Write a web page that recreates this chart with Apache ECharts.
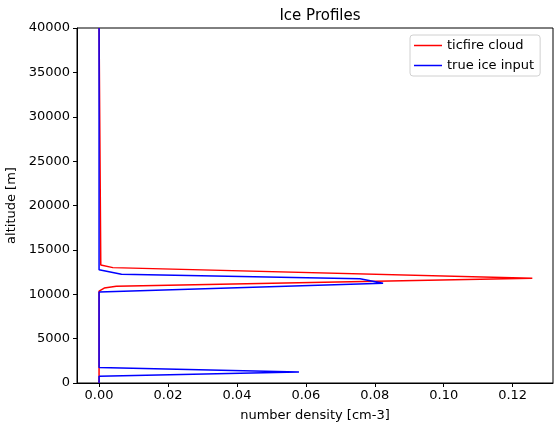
<!DOCTYPE html>
<html>
<head>
<meta charset="utf-8">
<script src="https://cdn.jsdelivr.net/npm/echarts@6/dist/echarts.min.js"></script>
<style>
  html, body { margin: 0; padding: 0; background: #fff; }
  #chart { width: 556px; height: 433px; }
</style>
</head>
<body>
<div id="chart"></div>
<script>
// 数据: [number density, altitude]
var ticfireDensity  = [0, 0,     0.0015, 0.005, 0.1257, 0.1252, 0.004, 0.0005, 0,     0];
var ticfireAltitude = [0, 10350, 10700,  10900, 11800,  12000,  13000, 13300,  13400, 40000];

var trueDensity  = [0, 0,   0.058, 0,    0,     0.0824, 0.0757, 0.0065, 0,     0];
var trueAltitude = [0, 750, 1250,  1750, 10250, 11250,  11750,  12250,  12750, 40000];

var xTicks = [0, 0.02, 0.04, 0.06, 0.08, 0.10, 0.12];
var seriesNames = ['ticfire cloud', 'true ice input'];

function pairs(xs, ys) {
    var out = [];
    for (var i = 0; i < xs.length; i++) out.push([xs[i], ys[i]]);
    return out;
}

var font = 'DejaVu Sans';
// 图例里只画一条线
var lineIcon = 'path://M0,0L0,0M0,5.25L28,5.25L28,6.75L0,6.75ZM28,12L28,12';
var myChart = echarts.init(document.getElementById('chart'));

var option = {
    animation: false,
    title: {
        text: 'Ice Profiles',
        left: 315,
        textAlign: 'center',
        top: 4,
        textStyle: { fontFamily: font, fontSize: 15, fontWeight: 'normal', color: '#000' }
    },
    legend: {
        data: [
            { name: seriesNames[0], icon: lineIcon },
            { name: seriesNames[1], icon: lineIcon }
        ],
        orient: 'vertical',
        left: 410,
        top: 35,
        padding: [4, 6, 4, 4],
        itemWidth: 28,
        itemHeight: 12,
        itemGap: 7,
        borderColor: '#d0d0d0',
        borderWidth: 1,
        borderRadius: 3,
        backgroundColor: 'rgba(255,255,255,0.8)',
        textStyle: { fontFamily: font, fontSize: 13, color: '#000' }
    },
    grid: {
        left: 77,
        right: 3,
        top: 28,
        bottom: 50,
        outerBoundsMode: 'none',
        containLabel: false,
        show: true,
        borderColor: '#000',
        borderWidth: 1,
        backgroundColor: 'transparent'
    },
    xAxis: {
        type: 'value',
        min: -0.0064,
        max: 0.1317,
        name: 'number density [cm-3]',
        nameLocation: 'middle',
        nameGap: 26,
        nameTextStyle: { fontFamily: font, fontSize: 13, color: '#000' },
        splitLine: { show: false },
        axisLine: { show: true, onZero: false, lineStyle: { color: '#000' } },
        axisTick: { show: true, length: 4, customValues: xTicks, lineStyle: { color: '#000' } },
        axisLabel: {
            customValues: xTicks,
            fontFamily: font, fontSize: 13, color: '#000', margin: 6,
            formatter: function (v) { return v.toFixed(2); }
        }
    },
    yAxis: {
        type: 'value',
        min: 0,
        max: 40000,
        interval: 5000,
        name: 'altitude [m]',
        nameLocation: 'middle',
        nameGap: 58,
        nameTextStyle: { fontFamily: font, fontSize: 13, color: '#000' },
        splitLine: { show: false },
        axisLine: { show: true, onZero: false, lineStyle: { color: '#000' } },
        axisTick: { show: true, length: 4, lineStyle: { color: '#000' } },
        axisLabel: {
            fontFamily: font, fontSize: 13, color: '#000', margin: 7,
            formatter: function (v) { return String(v); }
        }
    },
    series: [
        {
            name: seriesNames[0],
            type: 'line',
            symbol: 'none',
            color: '#ff0000',
            lineStyle: { width: 1.5, color: '#ff0000' },
            data: pairs(ticfireDensity, ticfireAltitude)
        },
        {
            name: seriesNames[1],
            type: 'line',
            symbol: 'none',
            color: '#0000ff',
            lineStyle: { width: 1.5, color: '#0000ff' },
            data: pairs(trueDensity, trueAltitude)
        }
    ]
};

myChart.setOption(option);
</script>
</body>
</html>
